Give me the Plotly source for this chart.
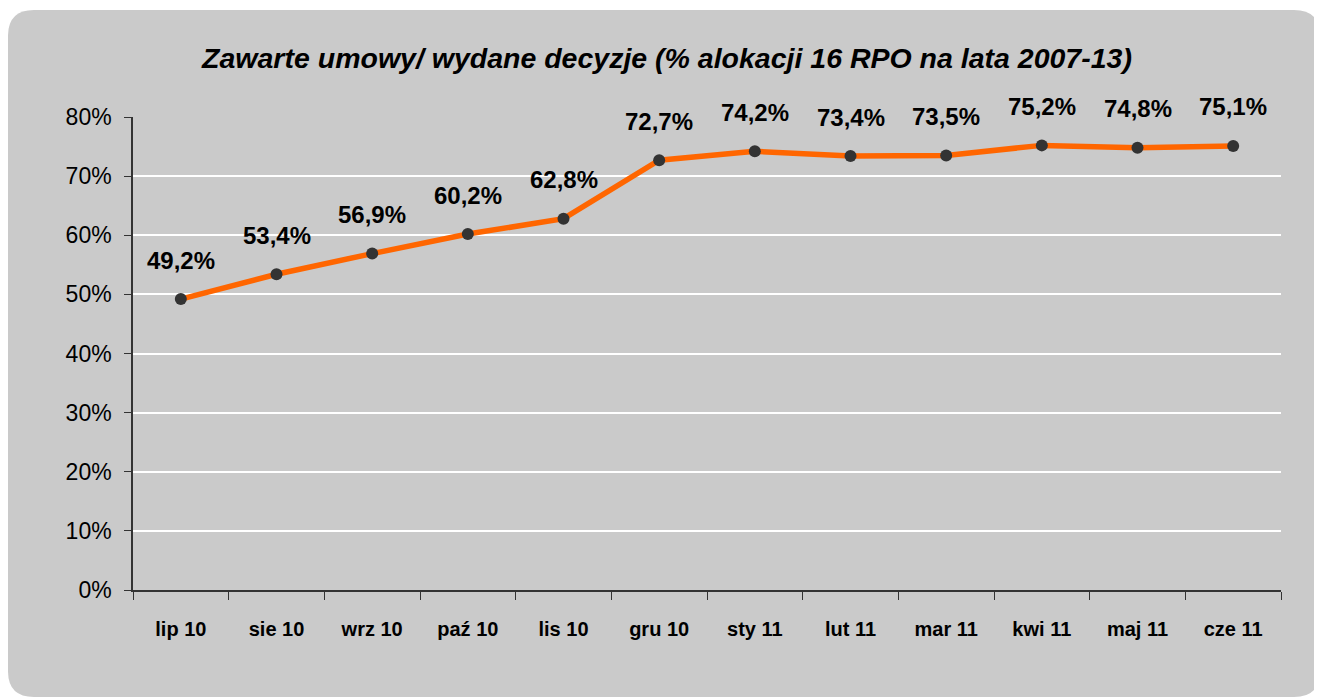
import plotly.graph_objects as go

categories = ["lip 10", "sie 10", "wrz 10", "paź 10", "lis 10", "gru 10",
              "sty 11", "lut 11", "mar 11", "kwi 11", "maj 11", "cze 11"]
values = [0.492, 0.534, 0.569, 0.602, 0.628, 0.727, 0.742, 0.734, 0.735, 0.752, 0.748, 0.751]
labels = ["49,2%", "53,4%", "56,9%", "60,2%", "62,8%", "72,7%", "74,2%", "73,4%",
          "73,5%", "75,2%", "74,8%", "75,1%"]
y_ticks = [0, 0.1, 0.2, 0.3, 0.4, 0.5, 0.6, 0.7, 0.8]
y_ticktext = ["0%", "10%", "20%", "30%", "40%", "50%", "60%", "70%", "80%"]
title = "Zawarte umowy/ wydane decyzje (% alokacji 16 RPO na lata 2007-13)"

# page has an 8px body margin, so figure coords = page coords - 8
W, H = 1314, 691
L, R, T, B = 125, 41, 109, 109
pw, ph = W - L - R, H - T - B

def px_x(x):
    return (x - L) / pw

def px_y(y):
    return (H - B - y) / ph

x0, x1, y0, y1, r = 0, 1312, 2, 689, 26
def P(x, y):
    return f"{px_x(x):.5f},{px_y(y):.5f}"
path = (f"M {P(x0 + r, y0)} L {P(x1 - r, y0)} Q {P(x1, y0)} {P(x1, y0 + r)} "
        f"L {P(x1, y1 - r)} Q {P(x1, y1)} {P(x1 - r, y1)} "
        f"L {P(x0 + r, y1)} Q {P(x0, y1)} {P(x0, y1 - r)} "
        f"L {P(x0, y0 + r)} Q {P(x0, y0)} {P(x0 + r, y0)} Z")

fig = go.Figure()
fig.add_trace(go.Scatter(
    x=categories, y=values, mode="lines+markers",
    line=dict(color="#FF6600", width=5.5),
    marker=dict(color="#333333", size=12),
    hoverinfo="skip", showlegend=False,
))

for c, v, t in zip(categories, values, labels):
    fig.add_annotation(x=c, y=v, text=f"<b>{t}</b>", showarrow=False,
                       yshift=39, font=dict(family="Liberation Sans, Arial", size=24, color="black"))

fig.add_shape(type="path", path=path, xref="paper", yref="paper",
              fillcolor="#CACACA", line=dict(width=0), layer="below")

fig.update_layout(
    width=W, height=H,
    margin=dict(l=L, r=R, t=T, b=B),
    paper_bgcolor="white", plot_bgcolor="rgba(0,0,0,0)",
    title=dict(text=f"<b><i>{title}</i></b>", x=659 / W, xanchor="center",
               y=1 - 50 / H, yanchor="middle",
               font=dict(family="Liberation Sans, Arial", size=28.5, color="black")),
    xaxis=dict(
        showgrid=False, showline=True, linecolor="#333333", linewidth=1.5,
        ticks="outside", ticklen=8, tickcolor="#333333", tickson="boundaries",
        tickfont=dict(family="Liberation Sans Narrow, Arial Narrow, Liberation Sans", size=20, color="black"),
        tickprefix="<b>", ticksuffix="</b>", ticklabelstandoff=20,
        range=[-0.5, 11.5], fixedrange=True,
    ),
    yaxis=dict(
        range=[0, 0.8], tickvals=y_ticks, ticktext=y_ticktext,
        showgrid=True, gridcolor="white", gridwidth=2,
        showline=True, linecolor="#333333", linewidth=1.5,
        ticks="outside", ticklen=7, tickcolor="#333333", ticklabelstandoff=8,
        tickfont=dict(family="Liberation Sans, Arial", size=23, color="black"),
        zeroline=False, fixedrange=True,
    ),
)

fig.write_html("out.html")
